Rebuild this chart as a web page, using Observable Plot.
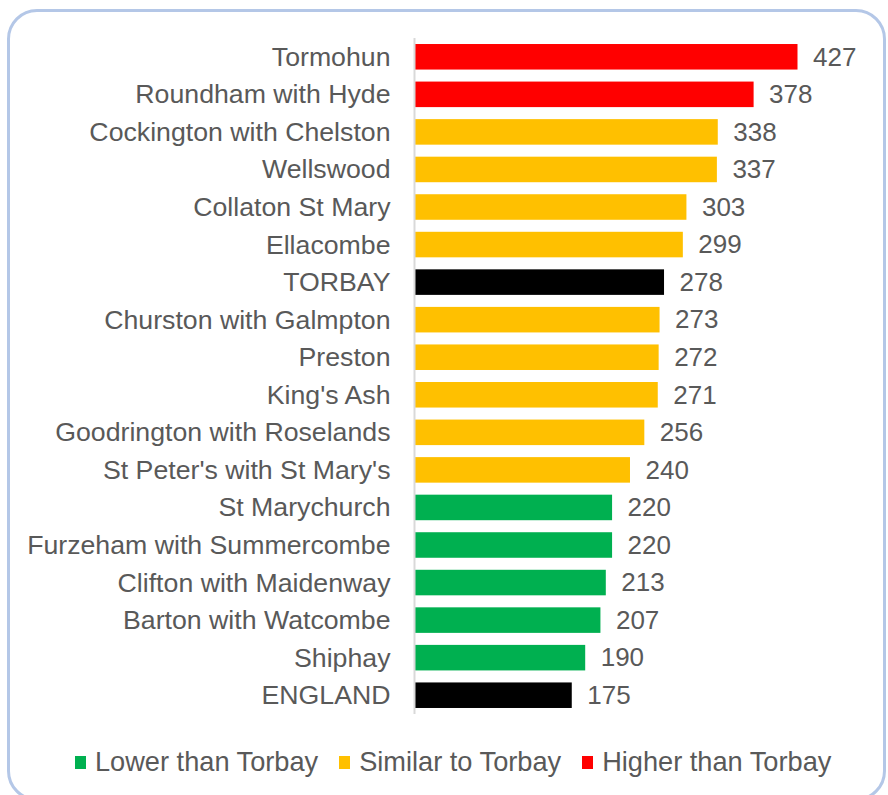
<!DOCTYPE html>
<html>
<head>
<meta charset="utf-8">
<script src="https://cdn.jsdelivr.net/npm/d3@7"></script>
<script src="https://cdn.jsdelivr.net/npm/@observablehq/plot@0.6"></script>
<style>
  html, body { margin: 0; padding: 0; background: #fff; }
  #wrap { position: relative; width: 888px; height: 795px; overflow: hidden; font-family: "Liberation Sans", Arial, sans-serif; }
  #frame { position: absolute; left: 7px; top: 9px; width: 873px; height: 786px; border: 3.5px solid #b4c7e7; border-radius: 30px; }
  #chart { position: absolute; left: 0; top: 0; }
  #legend { position: absolute; left: 75px; top: 746px; display: flex; align-items: center; font-size: 27.2px; color: #595959; white-space: nowrap; }
  #legend .item { display: flex; align-items: center; margin-right: 21px; }
  #legend .sw { width: 11px; height: 13px; margin-right: 9px; }
</style>
</head>
<body>
<div id="wrap">
  <div id="frame"></div>
  <div id="chart"></div>
  <div id="legend"></div>
</div>
<script>
const categories = ["Tormohun","Roundham with Hyde","Cockington with Chelston","Wellswood","Collaton St Mary","Ellacombe","TORBAY","Churston with Galmpton","Preston","King's Ash","Goodrington with Roselands","St Peter's with St Mary's","St Marychurch","Furzeham with Summercombe","Clifton with Maidenway","Barton with Watcombe","Shiphay","ENGLAND"];
const values = [427,378,338,337,303,299,278,273,272,271,256,240,220,220,213,207,190,175];
const groups = ["Higher than Torbay","Higher than Torbay","Similar to Torbay","Similar to Torbay","Similar to Torbay","Similar to Torbay","Reference","Similar to Torbay","Similar to Torbay","Similar to Torbay","Similar to Torbay","Similar to Torbay","Lower than Torbay","Lower than Torbay","Lower than Torbay","Lower than Torbay","Lower than Torbay","Reference"];
const groupNames = ["Lower than Torbay","Similar to Torbay","Higher than Torbay","Reference"];
const groupColors = ["#00b050","#ffc000","#ff0000","#000000"];
const legendNames = ["Lower than Torbay","Similar to Torbay","Higher than Torbay"];

const data = categories.map((c, i) => ({category: c, value: values[i], group: groups[i]}));

const chart = Plot.plot({
  width: 888,
  height: 720,
  marginTop: 32,
  marginBottom: 0,
  marginLeft: 415,
  marginRight: 90.5,
  style: {color: "#595959", fontFamily: "Liberation Sans, Arial, sans-serif", background: "transparent"},
  x: {domain: [0, 427], axis: null},
  y: {domain: categories, padding: 0.32, round: false, label: null},
  color: {domain: groupNames, range: groupColors},
  marks: [
    Plot.barX(data, {x: "value", y: "category", fill: "group"}),
    Plot.ruleX([0], {stroke: "#d9d9d9", strokeWidth: 2, dx: -1, insetTop: 6, insetBottom: 6}),
    Plot.text(data, {x: "value", y: "category", text: d => String(d.value), dx: 15, textAnchor: "start", fill: "#595959", fontSize: 26}),
    Plot.axisY({tickSize: 0, tickPadding: 25, fontSize: 26.7, label: null})
  ]
});
document.getElementById("chart").appendChild(chart);

const legend = document.getElementById("legend");
legendNames.forEach(name => {
  const item = document.createElement("div");
  item.className = "item";
  const sw = document.createElement("span");
  sw.className = "sw";
  sw.style.background = groupColors[groupNames.indexOf(name)];
  const t = document.createElement("span");
  t.textContent = name;
  item.appendChild(sw);
  item.appendChild(t);
  legend.appendChild(item);
});
</script>
</body>
</html>
